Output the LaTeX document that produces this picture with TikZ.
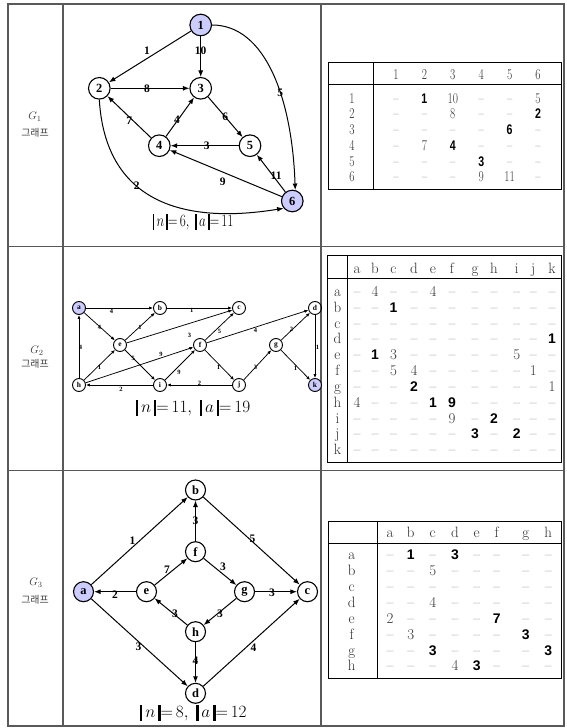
\documentclass[tikz,border=0pt]{standalone}
\usepackage{fontspec}
\usepackage{graphicx}
\usetikzlibrary{arrows.meta}
\newfontfamily\tms{Liberation Serif}
\newfontfamily\arl{Liberation Sans}
\newfontfamily\kr{Noto Sans CJK KR}
\definecolor{vfill}{RGB}{204,204,255}
\newcommand{\gv}[1]{\textcolor{black!78}{#1}}
\newcommand{\bv}[1]{{\arl\bfseries\fontsize{14}{14}\selectfont #1}}
\newcommand{\dd}{\textcolor{black!70}{\textendash}}
\newcommand{\vbar}{\rule[-3bp]{2.4bp}{16bp}}
\newcommand{\nform}[2]{$\vbar\,n\,\vbar{=}\,#1,\;\vbar\,a\,\vbar{=}\,#2$}
\newcommand{\sqz}[1]{\scalebox{0.76}[1]{#1}}
\tikzset{
  frame/.style={draw=black!65, line width=1.3bp},
  tbl/.style={draw=black, line width=1bp},
  cell/.style={anchor=base, inner sep=0pt, font=\fontsize{15}{15}\selectfont},
  hd/.style={cell, text=black!82},
  vA/.style={circle, draw, line width=1.1bp, minimum size=21.6bp, inner sep=0pt, font=\tms\bfseries\fontsize{12.5}{12.5}\selectfont},
  vC/.style={vA, minimum size=20bp},
  vB/.style={circle, draw, line width=0.9bp, minimum size=13bp, inner sep=0pt, font=\tms\bfseries\fontsize{7.5}{7.5}\selectfont},
  hl/.style={fill=vfill},
  eA/.style={line width=1bp, -{Latex[length=6.5bp,width=5bp]}},
  eB/.style={line width=0.75bp, -{Latex[length=4bp,width=3.2bp]}},
  lA/.style={font=\tms\bfseries\fontsize{11.5}{11.5}\selectfont, inner sep=0pt},
  lB/.style={font=\tms\bfseries\fontsize{6.5}{6.5}\selectfont, inner sep=0pt},
  form/.style={inner sep=0pt, font=\fontsize{17}{17}\selectfont},
  gname/.style={inner sep=0pt, text=black!75, font=\fontsize{11}{11}\selectfont},
  kname/.style={inner sep=0pt, text=black!75, font=\kr\fontsize{10}{10}\selectfont},
}
\begin{document}
\begin{tikzpicture}[x=1bp,y=-1bp]
\useasboundingbox (0,0) rectangle (567,728);
\fill[white] (0,0) rectangle (567,728);
% outer frame
\draw[frame] (8,4) rectangle (564,726);
\draw[frame] (63,4) -- (63,726);
\draw[frame] (321,4) -- (321,726);
\draw[frame] (8,246.5) -- (564,246.5);
\draw[frame] (8,470.5) -- (564,470.5);
% left labels
\node[gname] (g1) at (35,117) {$G_1$};
\node[kname] (k1) at (35,133) {그래프};
\node[gname] (g2) at (37,351) {$G_2$};
\node[kname] (k2) at (35,364) {그래프};
\node[gname] (g3) at (36,583) {$G_3$};
\node[kname] (k3) at (35,600) {그래프};

% ---------- G1 graph ----------
\node[vA,hl] (p1) at (200.7,25) {1};
\node[vA] (p2) at (99.3,88.3) {2};
\node[vA] (p3) at (200.7,88.3) {3};
\node[vA] (p4) at (159.3,145.7) {4};
\node[vA] (p5) at (250,145.7) {5};
\node[vA,hl] (p6) at (292.3,201) {6};
\draw[eA] (p1) -- node[lA,pos=0.5,shift={(-3,-6)}] {1} (p2);
\draw[eA] (p1) -- node[lA,pos=0.5,shift={(0,-6)}] {10} (p3);
\draw[eA] (p1.east) .. controls +(54,0) and +(-3,-90) .. (p6.75) node[lA,pos=0.6] {5};
\draw[eA] (p2) -- node[lA,pos=0.5,shift={(-3,0)}] {8} (p3);
\draw[eA] (p3) -- node[lA,pos=0.5] {6} (p5);
\draw[eA] (p4) -- node[lA,pos=0.5,shift={(-3,3)}] {4} (p3);
\draw[eA] (p4) -- node[lA,pos=0.5,shift={(0,4)}] {7} (p2);
\draw[eA] (p5) -- node[lA,pos=0.5,shift={(2,0)}] {3} (p4);
\draw[eA] (p6) -- node[lA,pos=0.5,shift={(5,2)}] {11} (p5);
\draw[eA] (p6) -- node[lA,pos=0.5,shift={(-3,8)}] {9} (p4);
\draw[eA] (p2.south) .. controls +(6,100) and +(-104,17) .. (p6.220) node[lA,pos=0.4] {2};
\node[form] (f1) at (193,222) {\sqz{\nform{6}{11}}};

% ---------- G1 table ----------
\draw[tbl] (328,62.7) rectangle (561,189);
\draw[tbl] (373,62.7) -- (373,189);
\draw[tbl] (328,85) -- (561,85);
\def\colsA{{396,424.4,452.8,481.2,509.6,538}}
\foreach \h [count=\j] in {1,...,6}{
  \pgfmathsetmacro{\xx}{\colsA[\j-1]}
  \node[hd] (ta-h\j) at (\xx,79.3) {\sqz{\h}};
  \pgfmathsetmacro{\yy}{103.3+(\j-1)*15.68}
  \node[hd] (ta-r\j) at (352,\yy) {\sqz{\h}};
}
\foreach \vals [count=\i] in {
  {\dd,\bv{1},\gv{10},\dd,\dd,\gv{5}},
  {\dd,\dd,\gv{8},\dd,\dd,\bv{2}},
  {\dd,\dd,\dd,\dd,\bv{6},\dd},
  {\dd,\gv{7},\bv{4},\dd,\dd,\dd},
  {\dd,\dd,\dd,\bv{3},\dd,\dd},
  {\dd,\dd,\dd,\gv{9},\gv{11},\dd}}{
  \pgfmathsetmacro{\yy}{103.3+(\i-1)*15.68}
  \foreach \v [count=\j] in \vals{
    \pgfmathsetmacro{\xx}{\colsA[\j-1]}
    \node[cell] (ta-\i-\j) at (\xx,\yy) {\sqz{\v}};
  }
}

% ---------- G2 graph ----------
\node[vB,hl] (qa) at (79,308) {a};
\node[vB] (qb) at (160,308) {b};
\node[vB] (qc) at (239,308) {c};
\node[vB] (qd) at (315,308) {d};
\node[vB] (qe) at (120,345) {e};
\node[vB] (qf) at (200,345) {f};
\node[vB] (qg) at (276,345) {g};
\node[vB] (qh) at (79,385) {h};
\node[vB] (qi) at (160,385) {i};
\node[vB] (qj) at (239,385) {j};
\node[vB,hl] (qk) at (315,385) {k};
\draw[eB] (qa) -- node[lB,pos=0.38,shift={(0,3.5)}] {4} (qb);
\draw[eB] (qb) -- node[lB,pos=0.38,shift={(0,2)}] {1} (qc);
\draw[eB] (qa) -- node[lB,pos=0.5,shift={(0,1)}] {4} (qe);
\draw[eB] (qe) -- node[lB,pos=0.5,shift={(0,1)}] {1} (qb);
\draw[eB] (qe) -- node[lB,pos=0.5,shift={(10,9)}] {3} (qc);
\draw[eB] (qf) -- node[lB,pos=0.5,shift={(0,5)}] {5} (qc);
\draw[eB] (qf) -- node[lB,pos=0.5,shift={(-2,4)}] {4} (qd);
\draw[eB] (qg) -- node[lB,pos=0.5,shift={(-4,3)}] {2} (qd);
\draw[eB] (qd) -- node[lB,pos=0.5,shift={(2.5,1)}] {1} (qk);
\draw[eB] (qh) -- node[lB,pos=0.5,shift={(1.5,1)}] {4} (qa);
\draw[eB] (qe) -- node[lB,pos=0.28] {5} (qi);
\draw[eB] (qh) -- node[lB,pos=0.5,shift={(0,2)}] {1} (qe);
\draw[eB] (qh) -- node[lB,pos=0.7,shift={(0,-3)}] {9} (qf);
\draw[eB] (qi) -- node[lB,pos=0.5,shift={(-1,7)}] {9} (qf);
\draw[eB] (qf) -- node[lB,pos=0.5,shift={(-1,2)}] {1} (qj);
\draw[eB] (qj) -- node[lB,pos=0.5,shift={(-2,2)}] {3} (qg);
\draw[eB] (qg) -- node[lB,pos=0.5,shift={(0,3)}] {1} (qk);
\draw[eB] (qi) -- node[lB,pos=0.5,shift={(1.5,4)}] {2} (qh);
\draw[eB] (qj) -- node[lB,pos=0.5,shift={(0,-2)}] {2} (qi);
\node[form] (f2) at (193,408) {\nform{11}{19}};

% ---------- G2 table ----------
\draw[tbl] (327,255) rectangle (561,462);
\draw[tbl] (347,255) -- (347,462);
\draw[tbl] (327,278) -- (561,278);
\def\colsB{{357,375,393.5,414,433,452,475,494,516.7,533.3,552}}
\foreach \h [count=\j] in {a,...,k}{
  \pgfmathsetmacro{\xx}{\colsB[\j-1]}
  \node[hd] (tb-h\j) at (\xx,273.3) {\h};
  \pgfmathsetmacro{\yy}{296.5+(\j-1)*15.83}
  \node[hd] (tb-r\j) at (337.5,\yy) {\h};
}
\foreach \vals [count=\i] in {
  {\dd,\gv{4},\dd,\dd,\gv{4},\dd,\dd,\dd,\dd,\dd,\dd},
  {\dd,\dd,\bv{1},\dd,\dd,\dd,\dd,\dd,\dd,\dd,\dd},
  {\dd,\dd,\dd,\dd,\dd,\dd,\dd,\dd,\dd,\dd,\dd},
  {\dd,\dd,\dd,\dd,\dd,\dd,\dd,\dd,\dd,\dd,\bv{1}},
  {\dd,\bv{1},\gv{3},\dd,\dd,\dd,\dd,\dd,\gv{5},\dd,\dd},
  {\dd,\dd,\gv{5},\gv{4},\dd,\dd,\dd,\dd,\dd,\gv{1},\dd},
  {\dd,\dd,\dd,\bv{2},\dd,\dd,\dd,\dd,\dd,\dd,\gv{1}},
  {\gv{4},\dd,\dd,\dd,\bv{1},\bv{9},\dd,\dd,\dd,\dd,\dd},
  {\dd,\dd,\dd,\dd,\dd,\gv{9},\dd,\bv{2},\dd,\dd,\dd},
  {\dd,\dd,\dd,\dd,\dd,\dd,\bv{3},\dd,\bv{2},\dd,\dd},
  {\dd,\dd,\dd,\dd,\dd,\dd,\dd,\dd,\dd,\dd,\dd}}{
  \pgfmathsetmacro{\yy}{296.5+(\i-1)*15.83}
  \foreach \v [count=\j] in \vals{
    \pgfmathsetmacro{\xx}{\colsB[\j-1]}
    \node[cell] (tb-\i-\j) at (\xx,\yy) {\v};
  }
}

% ---------- G3 graph ----------
\node[vC] (rb) at (195.5,490) {b};
\node[vC] (rf) at (195.5,551.7) {f};
\node[vC,hl] (ra) at (83.5,591.7) {a};
\node[vC] (re) at (146.5,591.7) {e};
\node[vC] (rg) at (244.5,591.7) {g};
\node[vC] (rc) at (307.5,591.7) {c};
\node[vC] (rh) at (195.5,631.7) {h};
\node[vC] (rd) at (195.5,693.3) {d};
\draw[eA] (ra) -- node[lA,pos=0.5,shift={(-7,0)}] {1} (rb);
\draw[eA] (rb) -- node[lA,pos=0.5,shift={(1,-2)}] {5} (rc);
\draw[eA] (rf) -- node[lA,pos=0.5] {3} (rb);
\draw[eA] (re) -- node[lA,pos=0.5,shift={(-4,-2)}] {7} (rf);
\draw[eA] (rf) -- node[lA,pos=0.5,shift={(3,-5)}] {3} (rg);
\draw[eA] (re) -- node[lA,pos=0.5,shift={(0,3)}] {2} (ra);
\draw[eA] (rg) -- node[lA,pos=0.5,shift={(-4,1)}] {3} (rc);
\draw[eA] (rh) -- node[lA,pos=0.5,shift={(4,2)}] {3} (re);
\draw[eA] (rg) -- node[lA,pos=0.5,shift={(0,2)}] {3} (rh);
\draw[eA] (rh) -- node[lA,pos=0.5,shift={(0,-2)}] {4} (rd);
\draw[eA] (ra) -- node[lA,pos=0.5,shift={(-1,4)}] {3} (rd);
\draw[eA] (rd) -- node[lA,pos=0.5,shift={(2,5)}] {4} (rc);
\node[form] (f3) at (193.3,713) {\nform{8}{12}};

% ---------- G3 table ----------
\draw[tbl] (328,521.7) rectangle (561,678);
\draw[tbl] (377.7,521.7) -- (377.7,678);
\draw[tbl] (328,543.3) -- (561,543.3);
\def\colsC{{390,410.7,432.7,455,476.7,496.7,525.7,548.3}}
\foreach \h [count=\j] in {a,...,h}{
  \pgfmathsetmacro{\xx}{\colsC[\j-1]}
  \node[hd] (tc-h\j) at (\xx,537.3) {\h};
  \pgfmathsetmacro{\yy}{559.3+(\j-1)*15.95}
  \node[hd] (tc-r\j) at (351.7,\yy) {\h};
}
\foreach \vals [count=\i] in {
  {\dd,\bv{1},\dd,\bv{3},\dd,\dd,\dd,\dd},
  {\dd,\dd,\gv{5},\dd,\dd,\dd,\dd,\dd},
  {\dd,\dd,\dd,\dd,\dd,\dd,\dd,\dd},
  {\dd,\dd,\gv{4},\dd,\dd,\dd,\dd,\dd},
  {\gv{2},\dd,\dd,\dd,\dd,\bv{7},\dd,\dd},
  {\dd,\gv{3},\dd,\dd,\dd,\dd,\bv{3},\dd},
  {\dd,\dd,\bv{3},\dd,\dd,\dd,\dd,\bv{3}},
  {\dd,\dd,\dd,\gv{4},\bv{3},\dd,\dd,\dd}}{
  \pgfmathsetmacro{\yy}{559.3+(\i-1)*15.95}
  \foreach \v [count=\j] in \vals{
    \pgfmathsetmacro{\xx}{\colsC[\j-1]}
    \node[cell] (tc-\i-\j) at (\xx,\yy) {\v};
  }
}
\end{tikzpicture}
\end{document}
